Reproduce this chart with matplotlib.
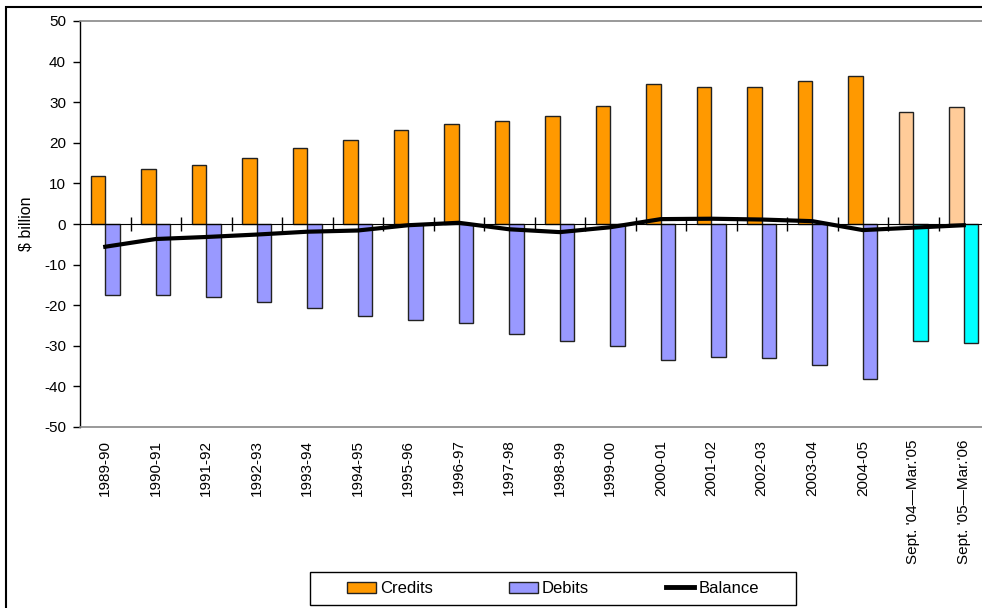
import matplotlib
matplotlib.use("Agg")
import matplotlib.pyplot as plt
from matplotlib.patches import Rectangle, Patch
from matplotlib.lines import Line2D
import numpy as np

plt.rcParams['font.family'] = ['Liberation Sans', 'DejaVu Sans']
plt.rcParams['axes.unicode_minus'] = False

periods = ["1989-90", "1990-91", "1991-92", "1992-93", "1993-94", "1994-95",
           "1995-96", "1996-97", "1997-98", "1998-99", "1999-00", "2000-01",
           "2001-02", "2002-03", "2003-04", "2004-05",
           "Sept. '04\u2014Mar.'05", "Sept. '05\u2014Mar.'06"]
credits = [11.8, 13.5, 14.6, 16.3, 18.7, 20.7, 23.2, 24.6, 25.4, 26.7,
           29.1, 34.4, 33.7, 33.8, 35.1, 36.4, 27.5, 28.8]
debits = [-17.6, -17.4, -17.9, -19.3, -20.6, -22.6, -23.6, -24.5, -27.0, -28.8,
          -30.1, -33.5, -32.7, -33.0, -34.8, -38.2, -28.7, -29.2]
balance = [-5.6, -3.7, -3.2, -2.6, -1.9, -1.6, -0.3, 0.3, -1.3, -2.0,
           -0.8, 1.2, 1.3, 1.1, 0.7, -1.5, -0.9, -0.3]

n_annual = 16
credit_colors = ["#FF9900"] * n_annual + ["#FFCC99"] * 2
debit_colors = ["#9999FF"] * n_annual + ["#00FFFF"] * 2

W, H = 982, 608
fig = plt.figure(figsize=(W / 100, H / 100), dpi=100)
ax = fig.add_axes([80 / W, 1 - 427 / H, 909 / W, 406 / H])

x = np.arange(len(periods))
bw = 0.29
ax.bar(x - bw / 2, credits, bw, color=credit_colors, edgecolor="#222222", linewidth=1, zorder=2)
ax.bar(x + bw / 2, debits, bw, color=debit_colors, edgecolor="#222222", linewidth=1, zorder=2)
ax.plot(x, balance, color="black", linewidth=3, zorder=4, solid_joinstyle="round")

ax.set_xlim(-0.5, len(periods) - 0.5)
ax.set_ylim(-50, 50)
ax.set_yticks(range(-50, 51, 10))
ax.tick_params(axis="y", direction="out", length=5, width=1, labelsize=11, pad=5)
ax.set_xticks(x)
ax.set_xticklabels(periods, rotation=90, fontsize=11, va="top")
ax.tick_params(axis="x", length=0, pad=9)
ax.set_ylabel("$ billion", fontsize=11.5, labelpad=8)

for s in ("top", "bottom"):
    ax.spines[s].set_color("#888888")
    ax.spines[s].set_linewidth(1.2)
ax.spines["right"].set_visible(False)
ax.spines["left"].set_linewidth(1)

# category axis crossing at zero, with tick marks between categories
zero_axis = ax.secondary_xaxis(0.5)
zero_axis.set_xticks(np.arange(0.5, len(periods) - 0.5, 1.0))
zero_axis.set_xticklabels([])
zero_axis.tick_params(direction="inout", length=10, width=1)
zero_axis.spines["bottom"].set_linewidth(1)
zero_axis.set_zorder(3)

handles = [Patch(facecolor="#FF9900", edgecolor="#222222", label="Credits"),
           Patch(facecolor="#9999FF", edgecolor="#222222", label="Debits"),
           Line2D([], [], color="black", linewidth=3.5, label="Balance")]
fig.legend(handles=handles, loc="center", ncol=3,
           bbox_to_anchor=(553 / W, 1 - 588.5 / H),
           fontsize=12, frameon=False, handlelength=1.7,
           handleheight=0.65, handletextpad=0.25, columnspacing=4.6)
# legend box
fig.patches.append(Rectangle((310 / W, 1 - 605 / H), 486 / W, 33 / H,
                             transform=fig.transFigure, fill=False,
                             edgecolor="black", linewidth=1))

fig.patches.append(Rectangle((6 / W, -0.01), 1.0, 1 - 7 / H + 0.01,
                             transform=fig.transFigure, fill=False,
                             edgecolor="black", linewidth=1.5))

fig.savefig("out.png", dpi=100)
